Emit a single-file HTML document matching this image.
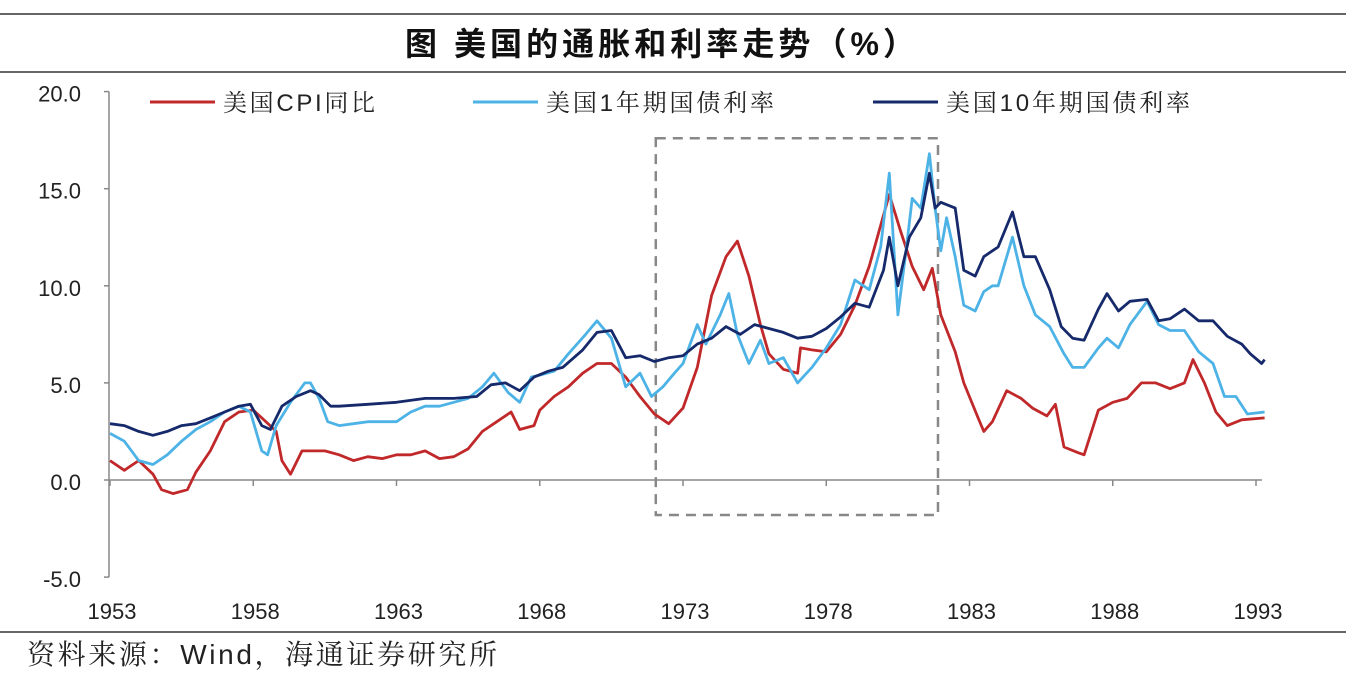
<!DOCTYPE html>
<html><head><meta charset="utf-8"><style>
body{margin:0;background:#fff;}
svg text{font-family:"Liberation Sans","Noto Sans CJK SC",sans-serif;}
svg text.serif{font-family:"Liberation Sans","Noto Serif CJK SC",serif;}
</style></head><body>
<svg width="1346" height="682" xmlns="http://www.w3.org/2000/svg">
<line x1="0" y1="14" x2="1346" y2="14" stroke="#333" stroke-width="1.5"/>
<line x1="0" y1="72" x2="1346" y2="72" stroke="#333" stroke-width="1.5"/>
<text x="405" y="55" font-size="32" font-weight="bold" fill="#111" textLength="510" lengthAdjust="spacing">图  美国的通胀和利率走势（%）</text>
<line x1="0" y1="632" x2="1346" y2="632" stroke="#333" stroke-width="1.5"/>
<text class="serif" x="27" y="664" font-size="28" fill="#222" textLength="470" lengthAdjust="spacing">资料来源：Wind，海通证券研究所</text>
<g id="axes"></g>
<g id="series"></g>
<g>
<line x1="150" y1="102" x2="215" y2="102" stroke="#C0282A" stroke-width="3"/>
<text class="serif" x="223" y="111" font-size="24" fill="#222" textLength="152" lengthAdjust="spacing">美国CPI同比</text>
<line x1="473" y1="102" x2="538" y2="102" stroke="#4DB3E6" stroke-width="3"/>
<text class="serif" x="546" y="111" font-size="24" fill="#222" textLength="228" lengthAdjust="spacing">美国1年期国债利率</text>
<line x1="873" y1="102" x2="938" y2="102" stroke="#15296B" stroke-width="3"/>
<text class="serif" x="946" y="111" font-size="24" fill="#222" textLength="244" lengthAdjust="spacing">美国10年期国债利率</text>
</g>
</svg>
<script>
const yTicks=[20,15,10,5,0,-5];
const yTickLabels=["20.0","15.0","10.0","5.0","0.0","-5.0"];
const xTicks=[1953,1958,1963,1968,1973,1978,1983,1988,1993];
const boxRange=[1972.05,1981.9,17.6,-1.8];
const cpiYears=[1953,1953.5,1954,1954.5,1954.8,1955.2,1955.7,1956,1956.5,1957,1957.5,1958,1958.3,1958.8,1959,1959.3,1959.7,1960.5,1961,1961.5,1962,1962.5,1963,1963.5,1964,1964.5,1965,1965.5,1966,1966.5,1967,1967.3,1967.8,1968,1968.5,1969,1969.5,1970,1970.5,1971,1971.5,1972,1972.5,1973,1973.5,1974,1974.5,1974.9,1975.3,1975.7,1976,1976.5,1977,1977.1,1977.5,1978,1978.5,1979,1979.5,1980.2,1980.6,1981,1981.4,1981.7,1982,1982.5,1982.8,1983.3,1983.5,1983.8,1984.3,1984.8,1985.2,1985.7,1986,1986.3,1986.8,1987,1987.5,1988,1988.5,1989,1989.5,1990,1990.5,1990.8,1991.2,1991.6,1992,1992.5,1993.3];
const cpiValues=[1.0,0.5,1.0,0.3,-0.5,-0.7,-0.5,0.4,1.5,3.0,3.5,3.6,3.2,2.5,1.0,0.3,1.5,1.5,1.3,1.0,1.2,1.1,1.3,1.3,1.5,1.1,1.2,1.6,2.5,3.0,3.5,2.6,2.8,3.6,4.3,4.8,5.5,6.0,6.0,5.3,4.3,3.4,2.9,3.7,5.8,9.5,11.5,12.3,10.5,8.0,6.5,5.7,5.5,6.8,6.7,6.6,7.5,9.0,11.0,14.7,12.8,11.0,9.8,10.9,8.5,6.6,5.0,3.2,2.5,3.0,4.6,4.2,3.7,3.3,3.9,1.7,1.4,1.3,3.6,4.0,4.2,5.0,5.0,4.7,5.0,6.2,5.0,3.5,2.8,3.1,3.2];
const y1Years=[1953,1953.5,1954,1954.5,1955,1955.5,1956,1956.5,1957,1957.5,1957.9,1958.3,1958.5,1958.8,1959.3,1959.8,1960,1960.3,1960.6,1961,1961.5,1962,1962.5,1963,1963.5,1964,1964.5,1965,1965.5,1966,1966.4,1966.9,1967.3,1967.7,1968,1968.5,1969,1969.6,1970,1970.5,1971,1971.5,1971.9,1972.3,1972.7,1973,1973.5,1973.8,1974.3,1974.6,1974.9,1975.3,1975.7,1976,1976.5,1977,1977.5,1978,1978.5,1979,1979.5,1979.9,1980.2,1980.5,1980.8,1981,1981.3,1981.6,1981.8,1982,1982.2,1982.5,1982.8,1983.2,1983.5,1983.8,1984,1984.5,1984.9,1985.3,1985.8,1986.3,1986.6,1987,1987.5,1987.8,1988.2,1988.6,1989.2,1989.6,1990,1990.5,1991,1991.5,1991.9,1992.3,1992.7,1993.3];
const y1Values=[2.4,2.0,1.0,0.8,1.3,2.0,2.6,3.0,3.5,3.8,3.5,1.5,1.3,2.8,4.0,5.0,5.0,4.2,3.0,2.8,2.9,3.0,3.0,3.0,3.5,3.8,3.8,4.0,4.2,4.8,5.5,4.5,4.0,5.3,5.4,5.6,6.5,7.5,8.2,7.3,4.8,5.5,4.3,4.8,5.5,6.0,8.0,7.0,8.5,9.6,7.5,6.0,7.2,6.0,6.3,5.0,5.8,6.8,8.0,10.3,9.8,12.0,15.8,8.5,12.0,14.5,14.0,16.8,14.0,11.8,13.5,11.5,9.0,8.7,9.7,10.0,10.0,12.5,10.0,8.5,7.9,6.5,5.8,5.8,6.8,7.3,6.8,8.0,9.2,8.0,7.7,7.7,6.6,6.0,4.3,4.3,3.4,3.5];
const y10Years=[1953,1953.5,1954,1954.5,1955,1955.5,1956,1956.5,1957,1957.5,1957.9,1958.3,1958.6,1959,1959.5,1960,1960.3,1960.7,1961,1962,1963,1964,1965,1965.8,1966.3,1966.8,1967.3,1967.8,1968.3,1968.8,1969.5,1970,1970.5,1971,1971.5,1972,1972.5,1973,1973.5,1974,1974.5,1975,1975.5,1976,1976.5,1977,1977.5,1978,1978.5,1979,1979.5,1980,1980.2,1980.5,1980.9,1981.3,1981.6,1981.8,1982,1982.5,1982.8,1983.2,1983.5,1983.8,1984,1984.5,1984.9,1985.3,1985.8,1986.2,1986.6,1987,1987.5,1987.8,1988.2,1988.6,1989.2,1989.6,1990,1990.5,1991,1991.5,1992,1992.5,1992.8,1993.2,1993.3];
const y10Values=[2.9,2.8,2.5,2.3,2.5,2.8,2.9,3.2,3.5,3.8,3.9,2.8,2.6,3.8,4.3,4.6,4.4,3.8,3.8,3.9,4.0,4.2,4.2,4.3,4.9,5.0,4.6,5.3,5.6,5.8,6.7,7.6,7.7,6.3,6.4,6.1,6.3,6.4,7.0,7.3,7.9,7.5,8.0,7.8,7.6,7.3,7.4,7.8,8.4,9.1,8.9,10.8,12.5,10.0,12.5,13.5,15.8,14.0,14.3,14.0,10.8,10.5,11.5,11.8,12.0,13.8,11.5,11.5,9.8,7.9,7.3,7.2,8.8,9.6,8.7,9.2,9.3,8.2,8.3,8.8,8.2,8.2,7.4,7.0,6.5,6.0,6.2];

const NS="http://www.w3.org/2000/svg";
const X0=110,PX_YR=28.65,Y0=480,PX_V=19.42;
function xs(t){return X0+(t-1953)*PX_YR;}
function ys(v){return Y0-v*PX_V;}
function mk(tag,attrs,parent){const e=document.createElementNS(NS,tag);for(const k in attrs)e.setAttribute(k,attrs[k]);parent.appendChild(e);return e;}
const axes=document.getElementById('axes');
const ser=document.getElementById('series');
let a=mk('line',{x1:109,y1:ys(20),x2:109,y2:ys(-5),stroke:'#888','stroke-width':1.5},axes);


let z=mk('line',{x1:109,y1:ys(0),x2:1262,y2:ys(0),stroke:'#888','stroke-width':1.5},axes);


yTicks.forEach((v,i)=>{
  const tk=mk('line',{x1:104,y1:ys(v),x2:109,y2:ys(v),stroke:'#888','stroke-width':1.5},axes);
  
  
  const t=mk('text',{x:81,y:ys(v)+10,'text-anchor':'end','font-size':22,fill:'#222'},axes);
  t.textContent=yTickLabels[i];
  
  
});
xTicks.forEach(yr=>{
  const tk=mk('line',{x1:xs(yr),y1:ys(0),x2:xs(yr),y2:ys(0)+6,stroke:'#888','stroke-width':1.5},axes);
  
  
  const t=mk('text',{x:xs(yr)+2,y:619,'text-anchor':'middle','font-size':22,fill:'#222'},axes);
  t.textContent=String(yr);
  
  
});
const box=mk('rect',{x:xs(boxRange[0]),y:ys(boxRange[2]),width:xs(boxRange[1])-xs(boxRange[0]),height:ys(boxRange[3])-ys(boxRange[2]),fill:'none',stroke:'#888','stroke-width':2.5,'stroke-dasharray':'10 7'},axes);


function line(years,vals,color,name){
  const d=years.map((t,i)=>(i?'L':'M')+xs(t).toFixed(1)+' '+ys(vals[i]).toFixed(1)).join(' ');
  const p=mk('path',{d:d,fill:'none',stroke:color,'stroke-width':2.8,'stroke-linejoin':'round'},ser);
  
  
}
line(cpiYears,cpiValues,'#C0282A','cpi-line');
line(y1Years,y1Values,'#4DB3E6','treasury-1y-line');
line(y10Years,y10Values,'#15296B','treasury-10y-line');
</script>
</body></html>
